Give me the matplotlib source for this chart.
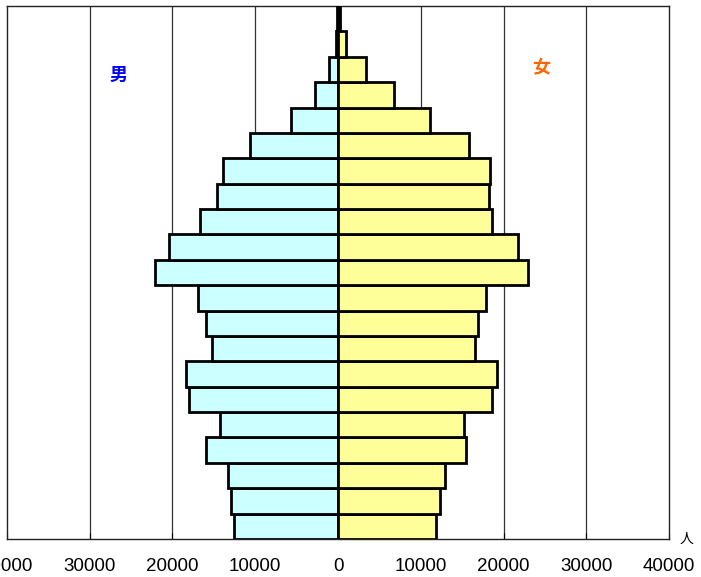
import matplotlib.pyplot as plt
import numpy as np

# age groups from 0-4 up to 100+
ages = ['0-4', '5-9', '10-14', '15-19', '20-24', '25-29', '30-34', '35-39',
        '40-44', '45-49', '50-54', '55-59', '60-64', '65-69', '70-74',
        '75-79', '80-84', '85-89', '90-94', '95-99', '100+']

male = [12570, 12890, 13250, 15990, 14260, 17970, 18400, 15190, 15990, 16880,
        22110, 20380, 16640, 14620, 13900, 10670, 5680, 2740, 1090, 250, 120]
female = [11840, 12360, 12890, 15470, 15190, 18570, 19250, 16560, 16920, 17920,
          22960, 21790, 18610, 18250, 18400, 15870, 11080, 6800, 3350, 970, 300]

xticks = [-40000, -30000, -20000, -10000, 0, 10000, 20000, 30000, 40000]
xlabels = ['40000', '30000', '20000', '10000', '0', '10000', '20000', '30000', '40000']

plt.rcParams['font.family'] = ['Liberation Sans', 'Noto Sans CJK JP', 'DejaVu Sans']

fig = plt.figure(figsize=(7.01, 5.77), dpi=100)
ax = fig.add_axes([7/701, (577-539)/577, 662/701, 533/577])

y = np.arange(len(ages))
ax.barh(y, -np.array(male), height=1.0, color='#CCFFFF', edgecolor='black', linewidth=2.0, zorder=3)
ax.barh(y, female, height=1.0, color='#FFFF99', edgecolor='black', linewidth=2.0, zorder=3)

ax.set_xlim(-40000, 40000)
ax.set_ylim(-0.5, len(ages) - 0.5)
ax.set_xticks(xticks)
ax.set_xticklabels(xlabels, fontsize=13.5)
ax.set_yticks([])
ax.tick_params(axis='x', direction='in', length=4, pad=13.5, color='black')
for xv in [-30000, -20000, -10000, 10000, 20000, 30000]:
    ax.axvline(xv, color='#333333', linewidth=0.9, zorder=1)
for s in ax.spines.values():
    s.set_linewidth(1.0)
    s.set_color('#222222')

ax.text(-26500, 17.75, '男', color='#0000FF', fontsize=13, fontweight='bold',
        family=['Noto Sans CJK JP'], ha='center', va='center')
ax.text(24600, 18.05, '女', color='#FF6600', fontsize=13, fontweight='bold',
        family=['Noto Sans CJK JP'], ha='center', va='center')
fig.text(686/701, 1 - 539/577, '人', fontsize=10, family=['Noto Sans CJK JP'],
         ha='center', va='center')

fig.savefig('out.png', dpi=100)
